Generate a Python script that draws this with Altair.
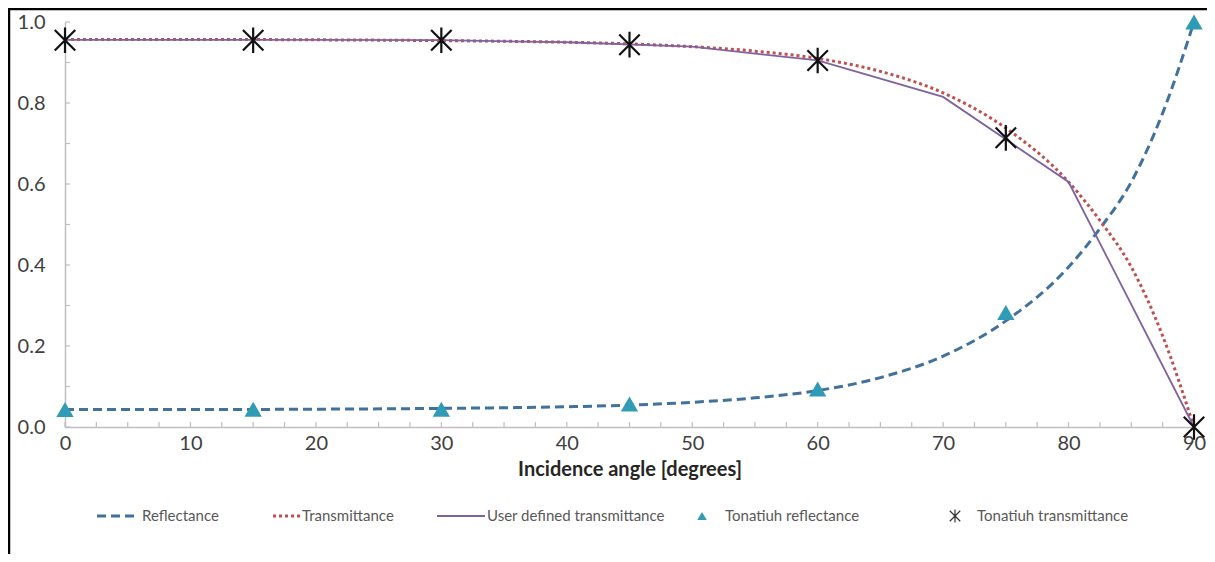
import altair as alt
import pandas as pd

# ---- data ----
curve_angles = [0, 10, 20, 30, 40, 45, 50, 55, 60, 65, 70, 75, 80, 82.5, 85, 87.5, 90]
reflectance = [0.043, 0.043, 0.044, 0.046, 0.050, 0.054, 0.061, 0.072, 0.090, 0.122,
               0.175, 0.262, 0.395, 0.490, 0.605, 0.775, 1.0]
transmittance = [0.957, 0.957, 0.956, 0.954, 0.950, 0.946, 0.939, 0.928, 0.910, 0.878,
                 0.825, 0.738, 0.605, 0.510, 0.395, 0.225, 0.0]

user_angles = [0, 10, 20, 30, 40, 50, 60, 70, 80, 90]
user_transmittance = [0.956, 0.956, 0.956, 0.955, 0.950, 0.939, 0.905, 0.815, 0.605, 0.0]

tonatiuh_angles = [0, 15, 30, 45, 60, 75, 90]
tonatiuh_reflectance = [0.043, 0.044, 0.044, 0.057, 0.094, 0.283, 1.0]
tonatiuh_transmittance = [0.955, 0.955, 0.955, 0.944, 0.905, 0.714, 0.0]

x_ticks = [0, 2.5, 5, 7.5, 10, 12.5, 15, 17.5, 20, 22.5, 25, 27.5, 30, 32.5, 35, 37.5,
           40, 42.5, 45, 47.5, 50, 52.5, 55, 57.5, 60, 62.5, 65, 67.5, 70, 72.5, 75,
           77.5, 80, 82.5, 85, 87.5, 90]
x_labels = [0, 10, 20, 30, 40, 50, 60, 70, 80, 90]
y_ticks = [0, 0.1, 0.2, 0.3, 0.4, 0.5, 0.6, 0.7, 0.8, 0.9, 1.0]
y_labels = [0, 0.2, 0.4, 0.6, 0.8, 1.0]

legend_labels = ["Reflectance", "Transmittance", "User defined transmittance",
                 "Tonatiuh reflectance", "Tonatiuh transmittance"]

W, H = 1129, 405
PAD_R = 13
FONT = "Lato"
C_REF = "#41719c"
C_TRA = "#c0504d"
C_USR = "#7f63a1"
C_TRI = "#2f9bb5"
C_STAR = "#111111"
STAR = "M -1 -1 L 1 1 M -1 1 L 1 -1 M 0 -1.25 L 0 1.25"

curves = pd.DataFrame({"angle": curve_angles, "R": reflectance, "T": transmittance})
user = pd.DataFrame({"angle": user_angles, "U": user_transmittance})
ton = pd.DataFrame({"angle": tonatiuh_angles, "R": tonatiuh_reflectance, "T": tonatiuh_transmittance})

xscale = alt.Scale(domain=[0, 90], nice=False, zero=False)
yscale = alt.Scale(domain=[0, 1], nice=False)

x_axis = alt.Axis(values=x_labels, title="Incidence angle [degrees]", grid=False, ticks=False,
                  domainColor="#bfbfbf", domainWidth=1.5, labelFont=FONT, labelFontSize=20,
                  labelColor="#404040", labelPadding=6, labelFlush=False, labelOverlap=False,
                  titleFont=FONT, titleFontSize=20, titleFontWeight="bold", titleColor="#262626",
                  titleX=W / 2, titleY=42, titleBaseline="middle", titleAlign="center")
y_axis = alt.Axis(values=y_labels, format=".1f", title="", grid=False, ticks=False,
                  domainColor="#bfbfbf", domainWidth=1.5, labelFont=FONT, labelFontSize=20,
                  labelColor="#404040", labelPadding=20, labelFlush=False, labelOverlap=False)


def X(field):
    return alt.X(field, scale=xscale, axis=x_axis, title="Incidence angle [degrees]")


def Y(field):
    return alt.Y(field, scale=yscale, axis=y_axis, title="")


ref_line = alt.Chart(curves).mark_line(color=C_REF, strokeWidth=3, strokeDash=[9, 5],
                                       interpolate="monotone").encode(x=X("angle:Q"), y=Y("R:Q"))
tra_line = alt.Chart(curves).mark_line(color=C_TRA, strokeWidth=3, strokeDash=[3, 3],
                                       interpolate="monotone").encode(x=X("angle:Q"), y=Y("T:Q"))
usr_line = alt.Chart(user).mark_line(color=C_USR, strokeWidth=1.8).encode(x=X("angle:Q"), y=Y("U:Q"))
tri = alt.Chart(ton).mark_point(shape="triangle-up", filled=True, color=C_TRI, size=300,
                                opacity=1).encode(x=X("angle:Q"), y=Y("R:Q"))
star = alt.Chart(ton).mark_point(shape=STAR, filled=False, color=C_STAR, size=420,
                                 strokeWidth=2.2, opacity=1).encode(x=X("angle:Q"), y=Y("T:Q"))

xt = alt.Chart(pd.DataFrame({"t": x_ticks})).mark_rule(color="#bfbfbf", strokeWidth=1.2).encode(
    x=X("t:Q"), y=alt.value(H), y2=alt.value(H - 5))
yt = alt.Chart(pd.DataFrame({"t": y_ticks})).mark_rule(color="#bfbfbf", strokeWidth=1.2).encode(
    y=Y("t:Q"), x=alt.value(0), x2=alt.value(5))

# ---- manual legend ----
LY = 494
one = pd.DataFrame({"k": [0]})
leg = []
leg.append(alt.Chart(one).mark_rule(color=C_REF, strokeWidth=3, strokeDash=[9, 5]).encode(
    x=alt.value(32), x2=alt.value(70), y=alt.value(LY)))
leg.append(alt.Chart(one).mark_rule(color=C_TRA, strokeWidth=3, strokeDash=[3, 3]).encode(
    x=alt.value(208), x2=alt.value(236), y=alt.value(LY)))
leg.append(alt.Chart(one).mark_rule(color=C_USR, strokeWidth=1.8).encode(
    x=alt.value(372), x2=alt.value(420), y=alt.value(LY)))
leg.append(alt.Chart(one).mark_point(shape="triangle-up", filled=True, color=C_TRI, size=90,
                                     opacity=1).encode(x=alt.value(637), y=alt.value(LY)))
leg.append(alt.Chart(one).mark_point(shape=STAR, filled=False, color="#333333", size=110,
                                     strokeWidth=1.2, opacity=1).encode(x=alt.value(890), y=alt.value(LY)))
text_x = [77, 237, 422, 660, 912]
for lab, tx in zip(legend_labels, text_x):
    leg.append(alt.Chart(pd.DataFrame({"label": [lab]})).mark_text(
        font=FONT, fontSize=15, color="#595959", align="left", baseline="middle").encode(
        text="label:N", x=alt.value(tx), y=alt.value(LY)))

# ---- frame (top and left border of the picture) ----
frame_top = alt.Chart(one).mark_rule(color="#000000", strokeWidth=2.5).encode(
    x=alt.value(-57), x2=alt.value(W + PAD_R), y=alt.value(-13))
frame_left = alt.Chart(one).mark_rule(color="#000000", strokeWidth=2.5).encode(
    x=alt.value(-56), y=alt.value(-14), y2=alt.value(H + 127))

chart = alt.layer(ref_line, tra_line, usr_line, xt, yt, tri, star, frame_top, frame_left,
                  *leg).properties(
    width=W, height=H,
    autosize=alt.AutoSizeParams(type="none"),
    padding={"left": 57, "top": 14, "right": PAD_R, "bottom": 127},
    background="white",
).configure_view(stroke=None)

chart.save("out.html", embed_options={"renderer": "svg", "actions": False})
